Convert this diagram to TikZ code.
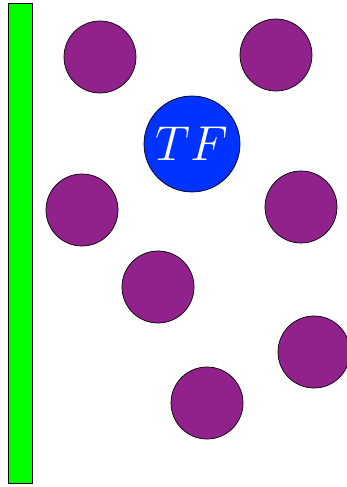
\documentclass[tikz,border=0pt]{standalone}
\usepackage{graphicx}
\definecolor{beadpurple}{RGB}{145,34,140}
\definecolor{tfblue}{RGB}{0,51,255}
\definecolor{wallgreen}{RGB}{0,255,0}
\tikzset{
    bead/.style={circle, draw, fill=beadpurple, minimum size=1.44cm, inner sep=0pt},
    factor/.style={circle, draw, fill=tfblue, minimum size=1.92cm, inner sep=0pt, text=white, font=\Huge}
}
\begin{document}
\begin{tikzpicture}
    \useasboundingbox (0, 0) rectangle (6.92, -9.74);
    % Wall
    \fill[wallgreen] (0.16, -0.06) rectangle (0.65, -9.66);
    \draw[thin] (0.16, -0.06) rectangle (0.65, -9.66);
    
    % Transcription factor
    \node[factor] (tf) at (3.84, -2.88) {\scalebox{1.12}{$TF$}};
    
    % Beads
    \node[bead] (b1) at (2.00, -1.14) {};
    \node[bead] (b2) at (5.52, -1.10) {};
    \node[bead] (b3) at (1.64, -4.20) {};
    \node[bead] (b4) at (6.02, -4.14) {};
    \node[bead] (b5) at (3.16, -5.74) {};
    \node[bead] (b6) at (6.28, -7.04) {};
    \node[bead] (b7) at (4.14, -8.06) {};
\end{tikzpicture}
\end{document}
